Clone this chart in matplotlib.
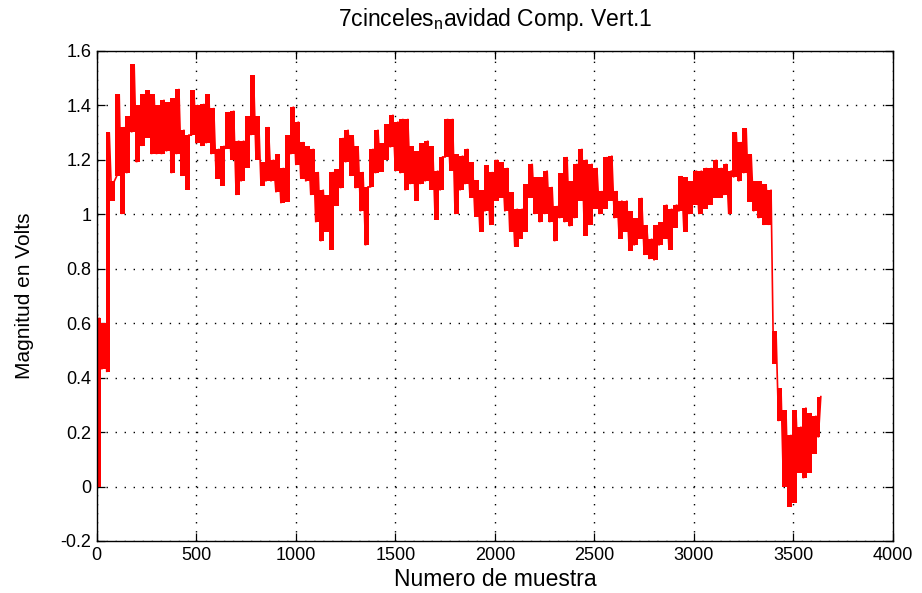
import matplotlib
matplotlib.use("Agg")
import matplotlib.pyplot as plt
from matplotlib import font_manager
import numpy as np

# ---- data: per 25-sample bin, local low and high ----
bin_width = 25
lo_vals = [0.00, 0.43, 0.42, 1.05, 1.14, 1.00, 1.15, 1.30, 1.19, 1.25,
           1.28, 1.22, 1.22, 1.22, 1.23, 1.15, 1.22, 1.14, 1.09, 1.29,
           1.26, 1.25, 1.26, 1.22, 1.13, 1.105, 1.24, 1.20, 1.07, 1.12,
           1.17, 1.29, 1.20, 1.105, 1.12, 1.12, 1.08, 1.04, 1.045, 1.22,
           1.18, 1.13, 1.12, 1.07, 0.97, 0.90, 0.935, 0.87, 1.03, 1.095,
           1.19, 1.14, 1.095, 1.01, 0.885, 1.10, 1.15, 1.155, 1.20, 1.245,
           1.16, 1.15, 1.087, 1.11, 1.05, 1.11, 1.12, 1.09, 0.98, 1.087,
           1.21, 1.16, 1.00, 1.087, 1.11, 1.06, 0.99, 0.935, 1.01, 0.96,
           1.05, 1.06, 1.01, 0.935, 0.88, 0.91, 0.935, 1.06, 1.00, 0.97,
           1.00, 0.97, 0.90, 0.985, 0.97, 0.955, 0.985, 1.05, 0.92, 0.96,
           1.02, 1.00, 1.02, 1.05, 0.985, 0.91, 0.935, 0.866, 0.885, 0.91,
           0.85, 0.835, 0.83, 0.885, 0.91, 0.87, 0.95, 1.01, 0.935, 1.00,
           1.035, 1.00, 1.02, 1.035, 1.06, 1.06, 1.07, 1.00, 1.135, 1.12,
           1.15, 1.045, 1.01, 0.985, 0.96, 0.96, 0.45, 0.24, 0.00, -0.075,
           -0.06, 0.05, 0.03, 0.05, 0.12, 0.18]
hi_vals = [0.62, 0.60, 1.30, 1.12, 1.44, 1.32, 1.36, 1.55, 1.40, 1.44,
           1.455, 1.44, 1.40, 1.42, 1.41, 1.425, 1.46, 1.31, 1.29, 1.455,
           1.40, 1.405, 1.44, 1.39, 1.24, 1.25, 1.375, 1.38, 1.27, 1.27,
           1.36, 1.51, 1.36, 1.19, 1.32, 1.20, 1.22, 1.17, 1.29, 1.395,
           1.34, 1.265, 1.25, 1.24, 1.155, 1.09, 1.07, 1.155, 1.165, 1.28,
           1.31, 1.29, 1.25, 1.155, 1.10, 1.24, 1.31, 1.26, 1.33, 1.365,
           1.34, 1.35, 1.35, 1.25, 1.23, 1.26, 1.27, 1.25, 1.16, 1.21,
           1.35, 1.35, 1.22, 1.215, 1.24, 1.19, 1.125, 1.087, 1.18, 1.155,
           1.20, 1.19, 1.17, 1.08, 1.02, 1.02, 1.11, 1.185, 1.135, 1.135,
           1.16, 1.10, 1.03, 1.15, 1.21, 1.12, 1.185, 1.24, 1.20, 1.185,
           1.17, 1.085, 1.21, 1.215, 1.085, 1.05, 1.05, 1.01, 0.985, 1.06,
           0.96, 0.91, 0.96, 0.97, 1.035, 1.02, 1.035, 1.14, 1.135, 1.12,
           1.16, 1.16, 1.17, 1.17, 1.20, 1.17, 1.185, 1.16, 1.30, 1.265,
           1.315, 1.22, 1.12, 1.12, 1.11, 1.09, 0.57, 0.36, 0.28, 0.19,
           0.28, 0.22, 0.29, 0.27, 0.26, 0.33]

x_ticks = [0, 500, 1000, 1500, 2000, 2500, 3000, 3500, 4000]
y_ticks = [-0.2, 0, 0.2, 0.4, 0.6, 0.8, 1.0, 1.2, 1.4, 1.6]
y_tick_labels = ["-0.2", "0", "0.2", "0.4", "0.6", "0.8", "1", "1.2", "1.4", "1.6"]
title_text = "7cinceles$_{\\mathrm{n}}$avidad Comp. Vert.1"
xlabel_text = "Numero de muestra"
ylabel_text = "Magnitud en Volts"

# ---- build the trace: alternate low / high within each bin ----
xs, ys = [], []
for i, (lo, hi) in enumerate(zip(lo_vals, hi_vals)):
    xs.append(i * bin_width)
    ys.append(lo)
    xs.append(i * bin_width + bin_width / 2)
    ys.append(hi)
x_mid = [i * bin_width + bin_width / 4 for i in range(len(lo_vals))]

installed = {f.name for f in font_manager.fontManager.ttflist}
fam = [f for f in ["Liberation Sans Narrow", "Liberation Sans", "DejaVu Sans"] if f in installed]
plt.rcParams["font.family"] = fam
plt.rcParams["mathtext.fontset"] = "custom"
plt.rcParams["mathtext.rm"] = fam[0]

fig = plt.figure(figsize=(9.22, 5.93), dpi=100)
ax = fig.add_axes([0.105, 0.0877, 0.8635, 0.8268])

# solid core of the noisy trace, then the trace itself on top
ax.fill_between(x_mid, lo_vals, hi_vals, step="mid", color="#ff0000", linewidth=0)
ax.plot(xs, ys, color="#ff0000", linewidth=1.2, solid_joinstyle="miter")

ax.set_xlim(0, 4000)
ax.set_ylim(-0.2, 1.6)
ax.set_xticks(x_ticks)
ax.set_xticklabels([str(t) for t in x_ticks])
ax.set_yticks(y_ticks)
ax.set_yticklabels(y_tick_labels)

ax.grid(True, color="black", linestyle=(0, (1, 5.5)), linewidth=1.0)
ax.set_axisbelow(True)
ax.tick_params(direction="in", top=True, right=True, length=6, width=0.9,
               labelsize=13, pad=4, colors="black")
for s in ax.spines.values():
    s.set_linewidth(1.0)

ax.set_title(title_text, fontsize=16.5, pad=18)
ax.set_xlabel(xlabel_text, fontsize=16.5, labelpad=3)
ax.set_ylabel(ylabel_text, fontsize=15, labelpad=19)

fig.savefig("out.png", dpi=100)
